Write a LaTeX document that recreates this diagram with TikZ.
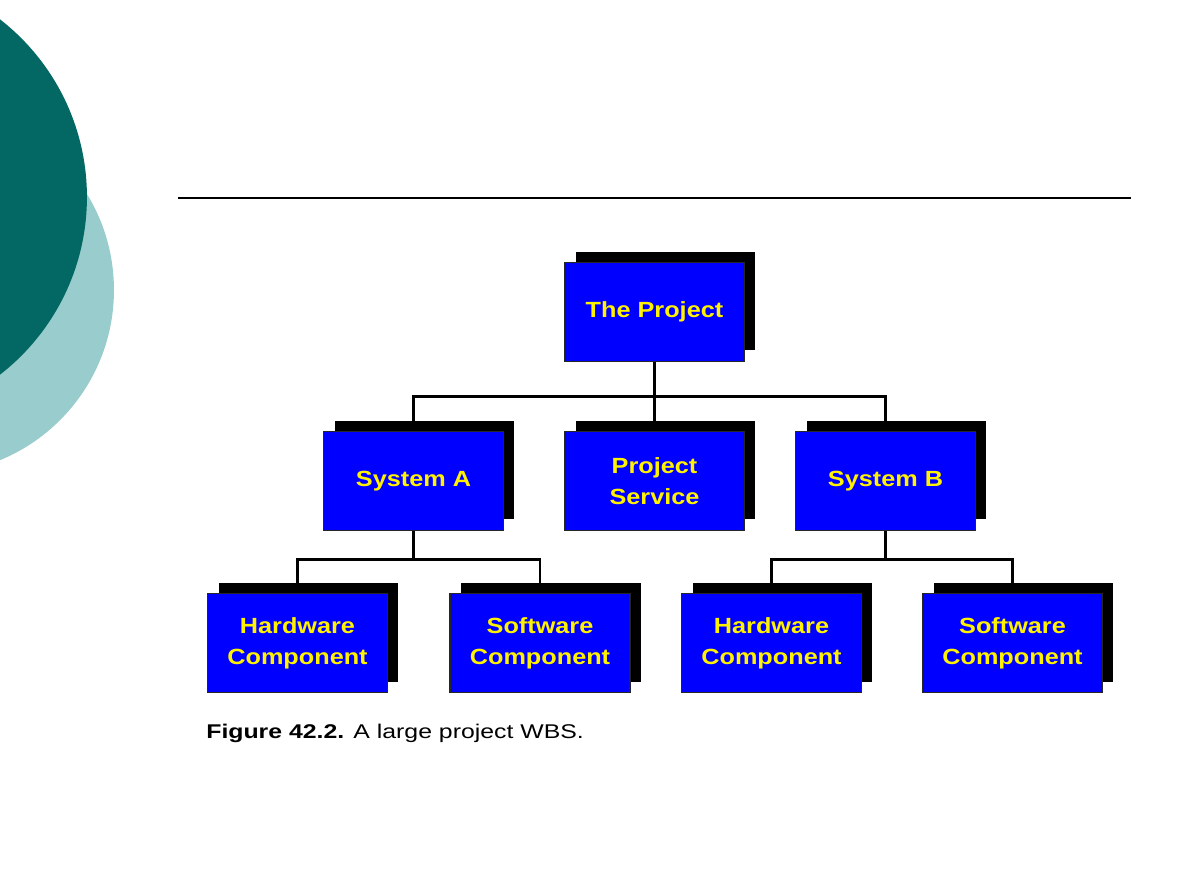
\documentclass[tikz,border=0pt]{standalone}
\usepackage{fontspec}
\setmainfont{Liberation Sans}
\newfontfamily\boxfont[FakeStretch=1.15]{Liberation Sans}
\newfontfamily\capfont[FakeStretch=1.25]{Liberation Sans}
\usetikzlibrary{shadows}
\definecolor{tealdark}{HTML}{036763}
\definecolor{teallight}{HTML}{99CCCC}
\definecolor{wbsblue}{HTML}{0000FF}

\begin{document}
\begin{tikzpicture}[x=0.02cm,y=-0.02cm,
  wbs/.style={draw=black!85,line width=0.6pt,fill=wbsblue,text=yellow,
    minimum width=3.6cm,minimum height=1.98cm,inner sep=0pt,align=center,
    font=\boxfont\fontsize{12.5}{17.6}\selectfont\bfseries,
    drop shadow={shadow xshift=0.22cm,shadow yshift=0.22cm,fill=black,opacity=1}},
  conn/.style={line width=1.7pt}]
  \useasboundingbox (0,0) rectangle (1191,893);
  % ---------------- background circles ----------------
  \begin{scope}
    \clip (0,0) rectangle (1191,893);
    \fill[teallight] (-70,290) circle (3.68cm);
    \fill[tealdark] (-138,197) circle (4.5cm);
  \end{scope}
  \coordinate (ruleL) at (178,198);
  \coordinate (ruleR) at (1131,198);
  \draw[line width=1.2pt] (ruleL) -- (ruleR);
  % ---------------- WBS boxes ----------------
  \node[wbs] (proj) at (654.5,312) {The Project};
  \node[wbs] (sysA) at (413.5,481) {System A};
  \node[wbs] (serv) at (654.5,481) {Project\\Service};
  \node[wbs] (sysB) at (885.5,481) {System B};
  \foreach \x/\n/\t in {297.5/hwA/Hardware,540/swA/Software,771.5/hwB/Hardware,1012.5/swB/Software}{
    \node[wbs] (\n) at (\x,643) {\t\\Component};
  }
  % ---------------- connectors ----------------
  \draw[conn] (proj.south) -- (serv.north);
  \draw[conn] (sysA.north) -- ++(0,-34) -| (sysB.north);
  \draw[conn] (sysA.south) -- ++(0,29);
  \draw[conn] (hwA.north) -- ++(0,-33) -| (swA.north);
  \draw[conn] (sysB.south) -- ++(0,29);
  \draw[conn] (hwB.north) -- ++(0,-33) -| (swB.north);
  \node[anchor=base west,inner sep=0pt,font=\capfont\fontsize{11.3}{13}\selectfont] (caption) at (206,738)
    {\textbf{Figure 42.2.} A large project WBS.};
\end{tikzpicture}
\end{document}
